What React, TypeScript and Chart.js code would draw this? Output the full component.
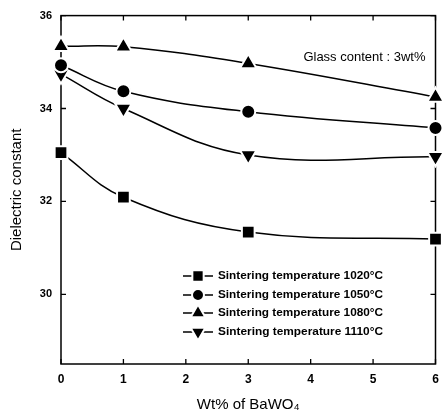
import React, { useEffect, useRef } from "react";
import { Chart, registerables } from "chart.js";

Chart.register(...registerables);

const xValues = [0, 1, 3, 6];
const s1020 = [33.05, 32.09, 31.34, 31.19];
const s1050 = [34.93, 34.37, 33.93, 33.58];
const s1080 = [35.34, 35.33, 34.97, 34.25];
const s1110 = [34.74, 34.0, 33.0, 32.96];
const seriesLabels = [
  "Sintering temperature 1020\u00B0C",
  "Sintering temperature 1050\u00B0C",
  "Sintering temperature 1080\u00B0C",
  "Sintering temperature 1110\u00B0C",
];
const yTickValues = [30, 32, 34, 36];
const xTickValues = [0, 1, 2, 3, 4, 5, 6];
const annotationText = "Glass content : 3wt%";
const xTitle = "Wt% of BaWO\u2084";
const yTitle = "Dielectric constant";

const FONT = "'Liberation Sans', Arial, sans-serif";

const styles = [
  { pointStyle: "rect", radius: 9, rotation: 0 },
  { pointStyle: "circle", radius: 7, rotation: 0 },
  { pointStyle: "triangle", radius: 9.5, rotation: 0 },
  { pointStyle: "triangle", radius: 9.5, rotation: 180 },
];

function drawMarker(ctx: CanvasRenderingContext2D, style: string, r: number, rot: number, x: number, y: number) {
  ctx.save();
  ctx.beginPath();
  if (style === "rect") {
    const s = r * Math.SQRT1_2;
    ctx.rect(x - s, y - s, 2 * s, 2 * s);
  } else if (style === "circle") {
    ctx.arc(x, y, r, 0, Math.PI * 2);
  } else {
    ctx.translate(x, y);
    ctx.rotate((rot * Math.PI) / 180);
    for (let k = 0; k < 3; k++) {
      const a = -Math.PI / 2 + (k * 2 * Math.PI) / 3;
      const px = Math.cos(a) * r;
      const py = Math.sin(a) * r;
      if (k === 0) ctx.moveTo(px, py);
      else ctx.lineTo(px, py);
    }
    ctx.closePath();
  }
  ctx.fill();
  ctx.stroke();
  ctx.restore();
}

const framePlugin = {
  id: "frame",
  beforeDatasetsDraw(chart: any) {
    const { ctx, chartArea, scales } = chart;
    const { left, right, top, bottom } = chartArea;
    ctx.save();
    ctx.strokeStyle = "#000";
    ctx.lineWidth = 1.5;
    ctx.strokeRect(left, top, right - left, bottom - top);
    ctx.lineWidth = 1.3;
    const tl = 5;
    ctx.beginPath();
    yTickValues.forEach((v) => {
      const y = scales.y.getPixelForValue(v);
      ctx.moveTo(left, y);
      ctx.lineTo(left + tl, y);
      ctx.moveTo(right, y);
      ctx.lineTo(right - tl, y);
    });
    xTickValues.forEach((v) => {
      const x = scales.x.getPixelForValue(v);
      ctx.moveTo(x, bottom);
      ctx.lineTo(x, bottom - tl);
      ctx.moveTo(x, top);
      ctx.lineTo(x, top + tl);
    });
    ctx.stroke();

    ctx.fillStyle = "#000";
    ctx.font = `13px ${FONT}`;
    ctx.textAlign = "right";
    ctx.textBaseline = "middle";
    ctx.fillText(annotationText, right - 10, top + 42);

    const rowsY = [276, 295, 313, 332];
    const lineX0 = 183;
    const lineX1 = 213;
    const mx = 198;
    rowsY.forEach((ry, i) => {
      const st = styles[i];
      ctx.strokeStyle = "#000";
      ctx.lineWidth = 1.5;
      ctx.beginPath();
      ctx.moveTo(lineX0, ry);
      ctx.lineTo(lineX1, ry);
      ctx.stroke();
      ctx.fillStyle = "#000";
      ctx.strokeStyle = "#fff";
      ctx.lineWidth = 2;
      drawMarker(ctx, st.pointStyle, st.radius - 1, st.rotation, mx, ry);
      ctx.fillStyle = "#000";
      ctx.font = `bold 11px ${FONT}`;
      ctx.textAlign = "left";
      ctx.textBaseline = "middle";
      const txt = seriesLabels[i];
      const w = ctx.measureText(txt).width;
      const target = 165;
      ctx.save();
      ctx.translate(218, ry);
      ctx.scale(target / w, 1);
      ctx.fillText(txt, 0, 0);
      ctx.restore();
    });
    ctx.restore();
  },
};

export default function App() {
  const ref = useRef<HTMLCanvasElement>(null);
  useEffect(() => {
    document.body.style.margin = "0";
    const all = [s1020, s1050, s1080, s1110];
    const chart = new Chart(ref.current!, {
      type: "line",
      data: {
        datasets: all.map((vals, i) => ({
          label: seriesLabels[i],
          data: xValues.map((x, j) => ({ x, y: vals[j] })),
          borderColor: "#000",
          borderWidth: 1.5,
          backgroundColor: "#000",
          pointBackgroundColor: "#000",
          pointBorderColor: "#fff",
          pointBorderWidth: 2,
          pointStyle: styles[i].pointStyle as any,
          pointRadius: styles[i].radius,
          pointRotation: styles[i].rotation,
          tension: 0.4,
          fill: false,
          clip: false as any,
        })),
      },
      options: {
        animation: false,
        responsive: false,
        layout: { padding: { top: 15, right: 10, left: 0, bottom: 0 } },
        plugins: { legend: { display: false }, tooltip: { enabled: false } },
        scales: {
          x: {
            type: "linear",
            min: 0,
            max: 6,
            afterBuildTicks: (s: any) => {
              s.ticks = xTickValues.map((v) => ({ value: v }));
            },
            afterFit: (s: any) => {
              s.height = 52;
            },
            grid: { display: false, drawTicks: false },
            border: { display: false },
            ticks: {
              color: "#000",
              padding: 8,
              font: { family: FONT, size: 12, weight: "bold" },
              maxRotation: 0,
            },
            title: {
              display: true,
              text: xTitle,
              color: "#000",
              font: { family: FONT, size: 15 },
              padding: 2,
            },
          },
          y: {
            type: "linear",
            min: 28.5,
            max: 36,
            afterBuildTicks: (s: any) => {
              s.ticks = yTickValues.map((v) => ({ value: v }));
            },
            afterFit: (s: any) => {
              s.width = 61;
            },
            grid: { display: false, drawTicks: false },
            border: { display: false },
            ticks: {
              color: "#000",
              padding: 9,
              font: { family: FONT, size: 11, weight: "bold" },
            },
            title: {
              display: true,
              text: yTitle,
              color: "#000",
              font: { family: FONT, size: 15 },
              padding: 8,
            },
          },
        },
      },
      plugins: [framePlugin],
    });
    return () => chart.destroy();
  }, []);
  return (
    <div style={{ width: 447, height: 416, background: "#fff" }}>
      <canvas ref={ref} width={447} height={416} style={{ display: "block" }} />
    </div>
  );
}
